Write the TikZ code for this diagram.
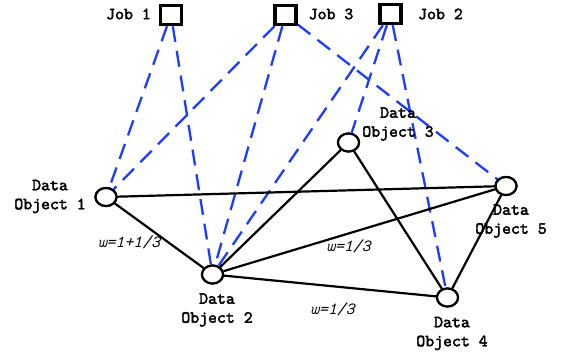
\documentclass[tikz,border=0pt]{standalone}
\usepackage{fontspec}
\newfontfamily\boldmono{lmmono10-regular.otf}[FakeBold=2.4]
\newfontfamily\italmono{lmmono10-italic.otf}
\usetikzlibrary{shapes.geometric}
\definecolor{linkblue}{RGB}{30,60,255}
\tikzset{
  obj/.style={draw, ellipse, line width=2.2pt, minimum width=21pt, minimum height=18pt, inner sep=0pt, fill=white},
  job/.style={draw, rectangle, line width=3.4pt, minimum width=21pt, minimum height=19pt, inner sep=0pt, fill=white},
  lbl/.style={font=\fontsize{17}{19}\selectfont\boldmono, align=center, inner sep=0pt},
  wlbl/.style={font=\fontsize{17}{17}\selectfont\italmono, inner sep=0pt},
  tie/.style={line width=2.2pt, black},
  use/.style={line width=2.3pt, linkblue, dash pattern=on 16pt off 9pt},
}
\begin{document}
\begin{tikzpicture}[x=1pt, y=-1pt]
\useasboundingbox (0,0) rectangle (561,352);

% jobs
\node[job] (j1) at (171,15) {};
\node[job] (j3) at (285.5,15) {};
\node[job] (j2) at (390.5,14) {};
\node[lbl] (j1l) at (128.5,14) {Job 1};
\node[lbl] (j3l) at (331,14) {Job 3};
\node[lbl] (j2l) at (440.5,14) {Job 2};

% data objects
\node[obj] (d1) at (106,197) {};
\node[obj] (d2) at (212.5,274.5) {};
\node[obj] (d3) at (348.5,142.5) {};
\node[obj] (d4) at (447.5,297.5) {};
\node[obj] (d5) at (506,186) {};

% job usage links
\draw[use] (j1) -- (d1);
\draw[use] (j1) -- (d2);
\draw[use] (j3) -- (d1);
\draw[use] (j3) -- (d2);
\draw[use] (j3) -- (d5);
\draw[use] (j2) -- (d2);
\draw[use] (j2) -- (d3);
\draw[use] (j2) -- (d4);

% weighted object links
\draw[tie] (d1) -- (d2);
\draw[tie] (d1) -- (d5);
\draw[tie] (d2) -- (d3);
\draw[tie] (d2) -- (d5);
\draw[tie] (d2) -- (d4);
\draw[tie] (d3) -- (d4);
\draw[tie] (d5) -- (d4);

% redraw nodes on top of links
\node[obj] at (d1) {};
\node[obj] at (d2) {};
\node[obj] at (d3) {};
\node[obj] at (d4) {};
\node[obj] at (d5) {};
\node[job] at (j1) {};
\node[job] at (j3) {};
\node[job] at (j2) {};

% object labels
\node[lbl] (d1l) at (50,196.5) {Data\\Object 1};
\node[lbl] (d2l) at (217,310) {Data\\Object 2};
\node[lbl] (d3l) at (398,124) {Data\\Object 3};
\node[lbl] (d4l) at (452,333.5) {Data\\Object 4};
\node[lbl] (d5l) at (511,221) {Data\\Object 5};

% weights
\node[wlbl] (w1) at (129,242.5) {w=1+1/3};
\node[wlbl] (w2) at (348.5,246) {w=1/3};
\node[wlbl] (w3) at (332.5,309) {w=1/3};
\end{tikzpicture}
\end{document}
